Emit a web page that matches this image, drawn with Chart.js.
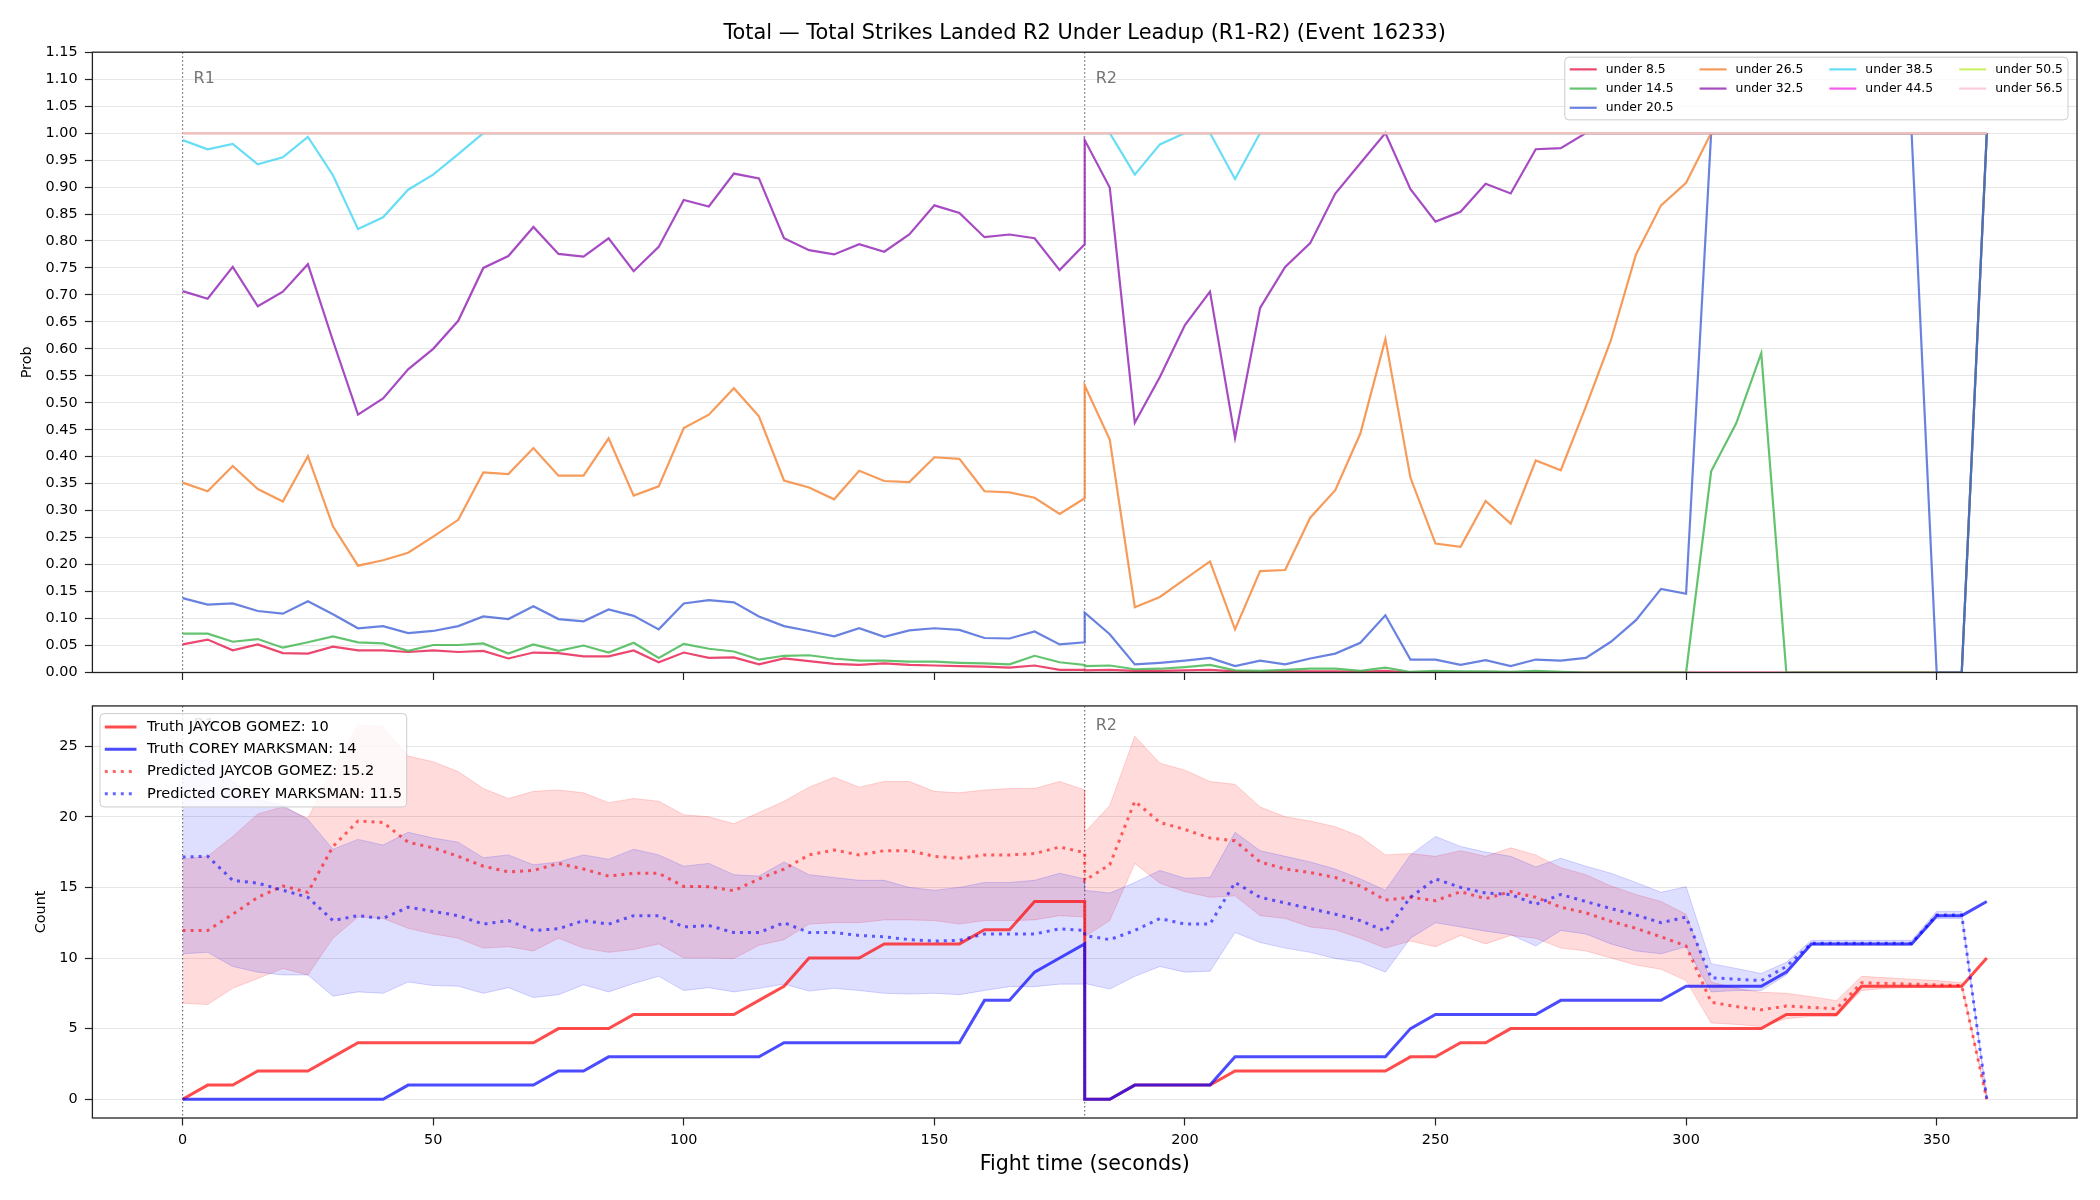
<!DOCTYPE html>
<html>
<head>
<meta charset="utf-8">
<script src="https://cdn.jsdelivr.net/npm/chart.js@4.4.1/dist/chart.umd.min.js"></script>
<style>
  html, body { margin: 0; padding: 0; background: #fff; }
  #wrap { position: relative; width: 2100px; height: 1200px; }
  canvas { position: absolute; left: 0; }
</style>
</head>
<body>
<div id="wrap">
  <canvas id="prob_chart" width="2100" height="690" style="top:0;width:2100px;height:690px"></canvas>
  <canvas id="count_chart" width="2100" height="510" style="top:690px;width:2100px;height:510px"></canvas>
</div>
<script>
// Fight time of each snapshot (R1 then R2, 180 appears twice)
const fightTimes = [
    0, 5, 10, 15, 20, 25, 30, 35, 40, 45,
    50, 55, 60, 65, 70, 75, 80, 85, 90, 95,
    100, 105, 110, 115, 120, 125, 130, 135, 140, 145,
    150, 155, 160, 165, 170, 175, 180,
    180, 185, 190, 195, 200, 205, 210, 215, 220, 225,
    230, 235, 240, 245, 250, 255, 260, 265, 270, 275,
    280, 285, 290, 295, 300, 305, 310, 315, 320, 325,
    330, 335, 340, 345, 350, 355, 360
]
const roundStarts = [0, 180]
const roundNames = ['R1', 'R2']

const chartTitle = 'Total — Total Strikes Landed R2 Under Leadup (R1-R2) (Event 16233)'
const thresholdLabels = ['under 8.5', 'under 14.5', 'under 20.5', 'under 26.5', 'under 32.5', 'under 38.5', 'under 44.5', 'under 50.5', 'under 56.5']

// Probability per threshold
const under8_5 = [
    0.052, 0.061, 0.041, 0.052, 0.036, 0.035, 0.048, 0.041, 0.041, 0.038,
    0.041, 0.038, 0.040, 0.026, 0.037, 0.036, 0.030, 0.030, 0.041, 0.019,
    0.037, 0.027, 0.028, 0.015, 0.026, 0.021, 0.016, 0.014, 0.017, 0.014,
    0.013, 0.012, 0.011, 0.009, 0.013, 0.005, 0.005,
    0.004, 0.005, 0.003, 0.003, 0.004, 0.005, 0.002, 0.001, 0.002, 0.002,
    0.002, 0.001, 0.003, 0, 0, 0, 0, 0, 0, 0,
    0, 0, 0, 0, 0, 0, 0, 0, 0, 0,
    0, 0, 0, 0, 0, 0, 1
]
const under14_5 = [
    0.072, 0.072, 0.057, 0.062, 0.046, 0.056, 0.067, 0.056, 0.054, 0.040,
    0.051, 0.051, 0.054, 0.035, 0.052, 0.040, 0.050, 0.037, 0.055, 0.027,
    0.053, 0.044, 0.039, 0.024, 0.031, 0.032, 0.026, 0.022, 0.022, 0.020,
    0.020, 0.018, 0.017, 0.015, 0.031, 0.019, 0.014,
    0.012, 0.013, 0.006, 0.007, 0.010, 0.014, 0.004, 0.003, 0.005, 0.007,
    0.007, 0.003, 0.009, 0.001, 0.003, 0.002, 0.002, 0.001, 0.003, 0.001,
    0, 0, 0, 0, 0, 0.373, 0.462, 0.592, 0, 0,
    0, 0, 0, 0, 0, 0, 1
]
const under20_5 = [
    0.138, 0.126, 0.128, 0.114, 0.109, 0.132, 0.108, 0.082, 0.086, 0.073,
    0.077, 0.086, 0.104, 0.099, 0.123, 0.099, 0.095, 0.117, 0.105, 0.080,
    0.128, 0.134, 0.130, 0.104, 0.086, 0.077, 0.067, 0.082, 0.066, 0.078,
    0.082, 0.079, 0.064, 0.063, 0.076, 0.052, 0.056,
    0.111, 0.071, 0.015, 0.018, 0.022, 0.027, 0.012, 0.022, 0.015, 0.026,
    0.035, 0.055, 0.106, 0.024, 0.024, 0.014, 0.023, 0.012, 0.024, 0.022,
    0.027, 0.057, 0.097, 0.155, 0.146, 1, 1, 1, 1, 1,
    1, 1, 1, 1, 0, 0, 1
]
const under26_5 = [
    0.352, 0.336, 0.383, 0.340, 0.317, 0.401, 0.271, 0.198, 0.208, 0.222,
    0.252, 0.283, 0.371, 0.368, 0.416, 0.365, 0.365, 0.434, 0.328, 0.345,
    0.453, 0.478, 0.527, 0.475, 0.356, 0.343, 0.321, 0.374, 0.355, 0.353,
    0.399, 0.396, 0.336, 0.334, 0.324, 0.294, 0.323,
    0.532, 0.432, 0.121, 0.140, 0.173, 0.206, 0.080, 0.188, 0.190, 0.287,
    0.338, 0.443, 0.618, 0.361, 0.239, 0.233, 0.318, 0.276, 0.393, 0.375,
    0.493, 0.616, 0.775, 0.866, 0.908, 1, 1, 1, 1, 1,
    1, 1, 1, 1, 1, 1, 1
]
const under32_5 = [
    0.707, 0.693, 0.752, 0.679, 0.706, 0.757, 0.615, 0.478, 0.508, 0.562,
    0.600, 0.652, 0.750, 0.772, 0.826, 0.776, 0.771, 0.805, 0.744, 0.789,
    0.876, 0.864, 0.925, 0.916, 0.805, 0.783, 0.775, 0.794, 0.780, 0.812,
    0.866, 0.852, 0.807, 0.812, 0.805, 0.746, 0.794,
    0.987, 0.899, 0.463, 0.548, 0.644, 0.706, 0.435, 0.676, 0.752, 0.796,
    0.888, 0.944, 1, 0.896, 0.836, 0.854, 0.906, 0.888, 0.970, 0.972,
    1, 1, 1, 1, 1, 1, 1, 1, 1, 1,
    1, 1, 1, 1, 1, 1, 1
]
const under38_5 = [
    0.987, 0.970, 0.980, 0.942, 0.955, 0.993, 0.922, 0.822, 0.844, 0.895,
    0.923, 0.961, 1, 1, 1, 1, 1, 1, 1, 1,
    1, 1, 1, 1, 1, 1, 1, 1, 1, 1,
    1, 1, 1, 1, 1, 1, 1,
    1, 1, 0.923, 0.979, 1, 1, 0.915, 1, 1, 1,
    1, 1, 1, 1, 1, 1, 1, 1, 1, 1,
    1, 1, 1, 1, 1, 1, 1, 1, 1, 1,
    1, 1, 1, 1, 1, 1, 1
]
const under44_5 = [
    1, 1, 1, 1, 1, 1, 1, 1, 1, 1,
    1, 1, 1, 1, 1, 1, 1, 1, 1, 1,
    1, 1, 1, 1, 1, 1, 1, 1, 1, 1,
    1, 1, 1, 1, 1, 1, 1,
    1, 1, 1, 1, 1, 1, 1, 1, 1, 1,
    1, 1, 1, 1, 1, 1, 1, 1, 1, 1,
    1, 1, 1, 1, 1, 1, 1, 1, 1, 1,
    1, 1, 1, 1, 1, 1, 1
]
const under50_5 = [
    1, 1, 1, 1, 1, 1, 1, 1, 1, 1,
    1, 1, 1, 1, 1, 1, 1, 1, 1, 1,
    1, 1, 1, 1, 1, 1, 1, 1, 1, 1,
    1, 1, 1, 1, 1, 1, 1,
    1, 1, 1, 1, 1, 1, 1, 1, 1, 1,
    1, 1, 1, 1, 1, 1, 1, 1, 1, 1,
    1, 1, 1, 1, 1, 1, 1, 1, 1, 1,
    1, 1, 1, 1, 1, 1, 1
]
const under56_5 = [
    1, 1, 1, 1, 1, 1, 1, 1, 1, 1,
    1, 1, 1, 1, 1, 1, 1, 1, 1, 1,
    1, 1, 1, 1, 1, 1, 1, 1, 1, 1,
    1, 1, 1, 1, 1, 1, 1,
    1, 1, 1, 1, 1, 1, 1, 1, 1, 1,
    1, 1, 1, 1, 1, 1, 1, 1, 1, 1,
    1, 1, 1, 1, 1, 1, 1, 1, 1, 1,
    1, 1, 1, 1, 1, 1, 1
]

// Strike counts
const countLabels = ['Truth JAYCOB GOMEZ: 10', 'Truth COREY MARKSMAN: 14', 'Predicted JAYCOB GOMEZ: 15.2', 'Predicted COREY MARKSMAN: 11.5']
const truthGomez = [
    0, 1, 1, 2, 2, 2, 3, 4, 4, 4,
    4, 4, 4, 4, 4, 5, 5, 5, 6, 6,
    6, 6, 6, 7, 8, 10, 10, 10, 11, 11,
    11, 11, 12, 12, 14, 14, 14,
    0, 0, 1, 1, 1, 1, 2, 2, 2, 2,
    2, 2, 2, 3, 3, 4, 4, 5, 5, 5,
    5, 5, 5, 5, 5, 5, 5, 5, 6, 6,
    6, 8, 8, 8, 8, 8, 10
]
const truthMarksman = [
    0, 0, 0, 0, 0, 0, 0, 0, 0, 1,
    1, 1, 1, 1, 1, 2, 2, 3, 3, 3,
    3, 3, 3, 3, 4, 4, 4, 4, 4, 4,
    4, 4, 7, 7, 9, 10, 11,
    0, 0, 1, 1, 1, 1, 3, 3, 3, 3,
    3, 3, 3, 5, 6, 6, 6, 6, 6, 7,
    7, 7, 7, 7, 8, 8, 8, 8, 9, 11,
    11, 11, 11, 11, 13, 13, 14
]
const predGomez = [
    11.95, 11.95, 13.1, 14.3, 15.1, 14.65, 17.9, 19.7, 19.6, 18.2,
    17.8, 17.2, 16.5, 16.1, 16.2, 16.7, 16.3, 15.8, 16.0, 16.0,
    15.07, 15.05, 14.76, 15.6, 16.3, 17.3, 17.65, 17.3, 17.6, 17.6,
    17.2, 17.06, 17.3, 17.3, 17.4, 17.86, 17.46,
    15.5, 16.6, 21.1, 19.6, 19.1, 18.5, 18.3, 16.8, 16.3, 16.05,
    15.7, 15.1, 14.1, 14.3, 14.06, 14.7, 14.2, 14.7, 14.3, 13.6,
    13.2, 12.6, 12.1, 11.5, 10.85, 6.87, 6.56, 6.33, 6.6, 6.5,
    6.4, 8.25, 8.2, 8.15, 8.1, 8.05, 0
]
const predMarksman = [
    17.15, 17.2, 15.5, 15.3, 14.8, 14.3, 12.65, 13.0, 12.8, 13.6,
    13.3, 13.0, 12.4, 12.65, 11.95, 12.07, 12.65, 12.4, 13.0, 13.0,
    12.2, 12.3, 11.8, 11.8, 12.5, 11.8, 11.8, 11.6, 11.5, 11.3,
    11.2, 11.25, 11.7, 11.7, 11.7, 12.07, 11.95,
    11.6, 11.3, 11.95, 12.8, 12.4, 12.4, 15.35, 14.3, 13.9, 13.5,
    13.1, 12.65, 11.9, 14.3, 15.6, 15.0, 14.6, 14.5, 13.8, 14.5,
    14.0, 13.5, 13.05, 12.5, 12.9, 8.6, 8.5, 8.4, 9.4, 11.04,
    11.04, 11.04, 11.04, 11.04, 13.05, 13.05, 0
]
// Prediction bands
const gomezHi = [
    17.0, 17.2, 18.6, 20.2, 20.7, 19.9, 23.4, 26.5, 26.4, 24.3,
    23.9, 23.2, 22.0, 21.3, 21.8, 21.9, 21.7, 21.0, 21.3, 21.1,
    20.15, 20.0, 19.5, 20.3, 21.1, 22.1, 22.8, 22.1, 22.5, 22.5,
    21.8, 21.7, 21.9, 22.0, 22.0, 22.5, 21.9,
    18.9, 20.8, 25.7, 23.8, 23.3, 22.5, 22.3, 20.7, 20.0, 19.7,
    19.3, 18.6, 17.3, 17.4, 17.2, 17.6, 17.2, 17.8, 17.3, 16.4,
    15.9, 15.1, 14.5, 14.0, 13.1, 8.3, 7.85, 7.57, 7.5, 7.26,
    6.98, 8.7, 8.6, 8.5, 8.4, 8.25, 0.1
]
const gomezLo = [
    6.8, 6.7, 7.85, 8.55, 9.26, 8.8, 11.4, 12.9, 12.8, 12.1,
    11.7, 11.4, 10.7, 10.8, 10.5, 11.4, 10.7, 10.4, 10.6, 11.0,
    10.0, 10.0, 9.96, 10.9, 11.3, 12.4, 12.5, 12.5, 12.7, 12.7,
    12.65, 12.4, 12.65, 12.65, 12.7, 13.0, 12.9,
    11.5, 12.65, 16.7, 15.3, 14.7, 14.3, 14.4, 13.0, 12.8, 12.2,
    12.0, 11.4, 10.7, 11.2, 10.8, 11.6, 11.0, 11.6, 11.4, 10.7,
    10.5, 10.0, 9.5, 9.2, 8.4, 5.4, 5.3, 5.15, 5.7, 5.86,
    5.86, 7.7, 7.85, 7.9, 7.9, 7.9, 0
]
const marksmanHi = [
    24.0, 24.0, 22.5, 21.2, 20.8, 19.8, 17.7, 18.4, 18.0, 18.9,
    18.5, 18.2, 17.1, 17.3, 16.6, 16.8, 17.3, 17.0, 17.7, 17.3,
    16.5, 16.7, 15.9, 15.8, 16.8, 15.9, 15.7, 15.5, 15.5, 15.0,
    14.8, 15.0, 15.35, 15.35, 15.5, 16.0, 15.6,
    14.8, 14.6, 15.35, 16.2, 15.65, 15.7, 18.9, 17.6, 17.2, 16.8,
    16.3, 15.6, 14.8, 17.3, 18.6, 17.9, 17.5, 17.2, 16.45, 17.06,
    16.5, 16.0, 15.35, 14.65, 15.05, 9.6, 9.26, 8.9, 9.7, 11.25,
    11.25, 11.25, 11.25, 11.25, 13.3, 13.3, 0.2
]
const marksmanLo = [
    10.3, 10.4, 9.4, 9.0, 8.8, 8.8, 7.3, 7.6, 7.5, 8.3,
    8.05, 8.0, 7.5, 7.9, 7.2, 7.4, 8.1, 7.6, 8.2, 8.7,
    7.7, 7.9, 7.6, 7.85, 8.15, 7.66, 7.85, 7.7, 7.5, 7.45,
    7.5, 7.4, 7.7, 7.97, 7.97, 8.15, 8.15,
    8.2, 7.8, 8.7, 9.4, 9.0, 9.07, 11.8, 11.1, 10.7, 10.4,
    9.96, 9.7, 9.0, 11.4, 12.5, 12.2, 11.9, 11.65, 10.85, 11.95,
    11.7, 11.0, 10.5, 10.3, 10.8, 7.6, 7.7, 7.7, 8.8, 10.9,
    10.9, 10.9, 10.9, 10.9, 12.8, 12.8, 0
]

const probSeries = [under8_5, under14_5, under20_5, under26_5, under32_5, under38_5, under44_5, under50_5, under56_5]
const thresholdColors = [
    'rgba(230,25,75,0.8)', 'rgba(60,180,75,0.8)', 'rgba(67,99,216,0.8)', 'rgba(245,130,49,0.8)', 'rgba(145,30,180,0.8)',
    'rgba(66,212,244,0.8)', 'rgba(240,50,230,0.8)', 'rgba(191,239,69,0.8)', 'rgba(250,190,212,0.8)'
]

// Sanity check on the hand-typed arrays
let checks = {under8_5, under14_5, under20_5, under26_5, under32_5, under38_5, under44_5, under50_5, under56_5,
    truthGomez, truthMarksman, predGomez, predMarksman, gomezHi, gomezLo, marksmanHi, marksmanLo}
let bad = Object.keys(checks).filter(name => checks[name].length !== fightTimes.length)
if (bad.length) throw new Error('wrong lengths: ' + bad.map(n => n + '=' + checks[n].length).join(', '))

const toPoints = values => fightTimes.map((t, i) => ({x: t, y: values[i]}))

Chart.defaults.font.family = '"DejaVu Sans", sans-serif'
Chart.defaults.color = '#000'

// Matplotlib like legend box inside the plot
const boxLegend = {
    id: 'boxLegend',
    afterDraw(chart, args, o) {
        const ctx = chart.ctx
        const area = chart.chartArea
        const items = chart.data.datasets.filter(ds => ds.legendText)
        ctx.save()
        ctx.font = o.fontSize + 'px "DejaVu Sans"'
        // column major fill, like matplotlib ncol
        let cols = []
        let base = Math.floor(items.length / o.ncol), extra = items.length % o.ncol, k = 0
        for (let c = 0; c < o.ncol; c++) {
            let n = base + (c < extra ? 1 : 0)
            cols.push(items.slice(k, k + n))
            k += n
        }
        let colW = cols.map(col => o.handleLen + o.gap + Math.max(...col.map(it => ctx.measureText(it.legendText).width)))
        let w = o.pad * 2 + colW.reduce((a, b) => a + b, 0) + o.colSpacing * (o.ncol - 1)
        let h = o.pad * 2 + (cols[0].length - 1) * o.pitch + o.fontSize * 1.15
        let x0 = o.corner === 'tr' ? area.right - o.insetX - w : area.left + o.insetX
        let y0 = area.top + o.insetY
        let r = 4
        ctx.beginPath()
        ctx.moveTo(x0 + r, y0)
        ctx.arcTo(x0 + w, y0, x0 + w, y0 + h, r)
        ctx.arcTo(x0 + w, y0 + h, x0, y0 + h, r)
        ctx.arcTo(x0, y0 + h, x0, y0, r)
        ctx.arcTo(x0, y0, x0 + w, y0, r)
        ctx.closePath()
        ctx.fillStyle = 'rgba(255,255,255,0.8)'
        ctx.fill()
        ctx.strokeStyle = '#cccccc'
        ctx.lineWidth = 1
        ctx.stroke()
        let cx = x0 + o.pad
        cols.forEach((col, c) => {
            col.forEach((it, row) => {
                let cy = y0 + o.pad + o.fontSize * 0.58 + row * o.pitch
                ctx.beginPath()
                ctx.setLineDash(it.borderDash || [])
                ctx.moveTo(cx, cy)
                ctx.lineTo(cx + o.handleLen, cy)
                ctx.strokeStyle = it.borderColor
                ctx.lineWidth = it.borderWidth
                ctx.stroke()
                ctx.setLineDash([])
                ctx.fillStyle = '#000'
                ctx.textBaseline = 'middle'
                ctx.fillText(it.legendText, cx + o.handleLen + o.gap, cy)
            })
            cx += colW[c] + o.colSpacing
        })
        ctx.restore()
    }
}

// Dotted round separators with their names
const roundMarkers = {
    id: 'roundMarkers',
    beforeDatasetsDraw(chart, args, o) {
        const {ctx, chartArea: a} = chart
        const x = chart.scales.x
        ctx.save()
        roundStarts.forEach((t, i) => {
            let px = x.getPixelForValue(t)
            ctx.beginPath()
            ctx.setLineDash([1.5, 2.5])
            ctx.strokeStyle = 'rgba(60,60,60,0.8)'
            ctx.lineWidth = 1.1
            ctx.moveTo(px, a.top)
            ctx.lineTo(px, a.bottom)
            ctx.stroke()
            ctx.setLineDash([])
            ctx.fillStyle = 'rgba(70,70,70,0.75)'
            ctx.font = '16px "DejaVu Sans"'
            ctx.textBaseline = 'middle'
            ctx.fillText(roundNames[i], px + 11, a.top + o.labelOffset)
        })
        ctx.restore()
    }
}

// Box around the plot area (matplotlib spines)
const axesFrame = {
    id: 'axesFrame',
    afterDatasetsDraw(chart) {
        const {ctx, chartArea: a} = chart
        ctx.save()
        ctx.strokeStyle = '#222'
        ctx.lineWidth = 1.3
        ctx.strokeRect(a.left, a.top, a.right - a.left, a.bottom - a.top)
        ctx.restore()
    }
}

const fightAxis = (showLabels) => ({
    type: 'linear',
    min: -18,
    max: 378,
    ticks: {display: showLabels, stepSize: 50, includeBounds: false, padding: 6.5, font: {size: 14.4}, color: '#000', autoSkip: false, maxRotation: 0},
    grid: {display: true, drawOnChartArea: false, drawTicks: true, tickLength: 7.5, tickColor: '#222', tickWidth: 1.2},
    border: {display: false}
})

// Top panel: probabilities
let probChart = new Chart(document.getElementById('prob_chart').getContext('2d'), {
    type: 'line',
    data: {
        datasets: probSeries.map((values, i) => ({
            label: thresholdLabels[i],
            legendText: thresholdLabels[i],
            data: toPoints(values),
            borderColor: thresholdColors[i],
            borderWidth: 2.2,
            pointRadius: 0,
            tension: 0,
            fill: false,
            order: probSeries.length - i
        }))
    },
    options: {
        responsive: false,
        animation: false,
        devicePixelRatio: 1,
        layout: {padding: {left: 0, right: 23, top: 0, bottom: 0}},
        scales: {
            x: Object.assign(fightAxis(false), {afterFit: s => { s.height = 17.5 }}),
            y: {
                type: 'linear',
                min: 0,
                max: 1.15,
                ticks: {stepSize: 0.05, maxTicksLimit: 100, padding: 7.3, font: {size: 14.4}, color: '#000', autoSkip: false, callback: v => v.toFixed(2)},
                grid: {color: '#e6e6e6', lineWidth: 1, drawTicks: true, tickLength: 7.5, tickColor: '#222', tickWidth: 1.2},
                border: {display: false},
                title: {display: true, text: 'Prob', font: {size: 14.4}, color: '#000', padding: {top: 19, bottom: 0}},
                afterFit: s => { s.width = 92.4 }
            }
        },
        plugins: {
            legend: {display: false},
            tooltip: {enabled: false},
            title: {
                display: true,
                text: chartTitle,
                fullSize: false,
                color: '#000',
                font: {size: 20.9, weight: 'normal'},
                padding: {top: 21, bottom: 6.1}
            },
            roundMarkers: {labelOffset: 27},
            boxLegend: {corner: 'tr', insetX: 9, insetY: 5, ncol: 4, fontSize: 12.4, pitch: 19.2, pad: 5, handleLen: 27, gap: 9, colSpacing: 26}
        }
    },
    plugins: [roundMarkers, axesFrame, boxLegend]
})

// Bottom panel: strike counts
let countChart = new Chart(document.getElementById('count_chart').getContext('2d'), {
    type: 'line',
    data: {
        datasets: [
            {data: toPoints(gomezHi), fill: '+1', backgroundColor: 'rgba(255,0,0,0.14)', borderColor: 'rgba(255,0,0,0.16)', borderWidth: 1, pointRadius: 0, order: 20},
            {data: toPoints(gomezLo), fill: false, borderColor: 'rgba(255,0,0,0.16)', borderWidth: 1, pointRadius: 0, order: 19},
            {data: toPoints(marksmanHi), fill: '+1', backgroundColor: 'rgba(0,0,255,0.13)', borderColor: 'rgba(0,0,255,0.16)', borderWidth: 1, pointRadius: 0, order: 18},
            {data: toPoints(marksmanLo), fill: false, borderColor: 'rgba(0,0,255,0.16)', borderWidth: 1, pointRadius: 0, order: 17},
            {legendText: countLabels[0], data: toPoints(truthGomez), fill: false, borderColor: 'rgba(255,0,0,0.7)', borderWidth: 3, pointRadius: 0, order: 4},
            {legendText: countLabels[1], data: toPoints(truthMarksman), fill: false, borderColor: 'rgba(0,0,255,0.7)', borderWidth: 3, pointRadius: 0, order: 3},
            {legendText: countLabels[2], data: toPoints(predGomez), fill: false, borderColor: 'rgba(255,0,0,0.6)', borderWidth: 3, borderDash: [3, 5], pointRadius: 0, order: 2},
            {legendText: countLabels[3], data: toPoints(predMarksman), fill: false, borderColor: 'rgba(0,0,255,0.6)', borderWidth: 3, borderDash: [3, 5], pointRadius: 0, order: 1}
        ]
    },
    options: {
        responsive: false,
        animation: false,
        devicePixelRatio: 1,
        layout: {padding: {left: 0, right: 23, top: 14, bottom: 0}},
        scales: {
            x: Object.assign(fightAxis(true), {
                title: {display: true, text: 'Fight time (seconds)', font: {size: 20.6}, color: '#000', padding: {top: 0, bottom: 22.6}},
                afterFit: s => { s.height = 82 }
            }),
            y: {
                type: 'linear',
                min: -1.33,
                max: 27.85,
                ticks: {stepSize: 5, includeBounds: false, padding: 7.3, font: {size: 14.4}, color: '#000', autoSkip: false},
                grid: {color: '#e6e6e6', lineWidth: 1, drawTicks: true, tickLength: 7.5, tickColor: '#222', tickWidth: 1.2},
                border: {display: false},
                title: {display: true, text: 'Count', font: {size: 14.4}, color: '#000', padding: {top: 32.5, bottom: 0}},
                afterFit: s => { s.width = 92.4 }
            }
        },
        plugins: {
            legend: {display: false},
            tooltip: {enabled: false},
            roundMarkers: {labelOffset: 19.5},
            boxLegend: {corner: 'tl', insetX: 7.6, insetY: 7.7, ncol: 1, fontSize: 14.6, pitch: 22.3, pad: 4.8, handleLen: 31.7, gap: 10.6, colSpacing: 0}
        }
    },
    plugins: [roundMarkers, axesFrame, boxLegend]
})
</script>
</body>
</html>
